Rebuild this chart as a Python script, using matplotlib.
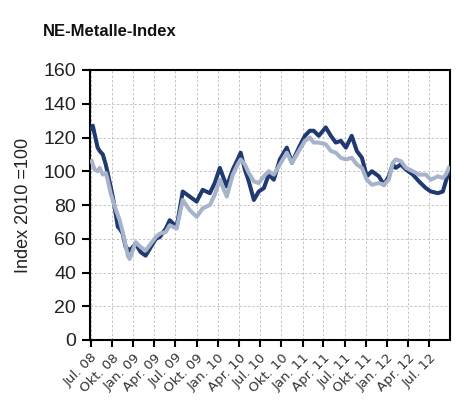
import matplotlib
matplotlib.use("Agg")
import matplotlib.pyplot as plt
import matplotlib.dates as mdates
import pandas as pd

dates = ["2008-07-05", "2008-07-10", "2008-07-18", "2008-07-31", "2008-08-09", "2008-08-22",
         "2008-09-04", "2008-09-12", "2008-09-25", "2008-10-04", "2008-10-13", "2008-10-26",
         "2008-11-03", "2008-11-16", "2008-11-29", "2008-12-08", "2008-12-16", "2008-12-29",
         "2009-01-11", "2009-02-02", "2009-02-23", "2009-03-17", "2009-04-08", "2009-04-25",
         "2009-05-21", "2009-06-07", "2009-07-07", "2009-08-02", "2009-09-01", "2009-10-01",
         "2009-10-27", "2009-11-27", "2009-12-18", "2010-01-09", "2010-02-08", "2010-03-06",
         "2010-03-27", "2010-04-09", "2010-04-27", "2010-05-14", "2010-06-05", "2010-06-26",
         "2010-07-18", "2010-08-08", "2010-08-30", "2010-09-25", "2010-10-25", "2010-11-16",
         "2010-12-16", "2011-01-11", "2011-02-01", "2011-02-18", "2011-03-12", "2011-04-11",
         "2011-05-03", "2011-05-24", "2011-06-15", "2011-07-07", "2011-08-01", "2011-08-23",
         "2011-09-14", "2011-10-05", "2011-10-27", "2011-11-26", "2011-12-18", "2012-01-08",
         "2012-01-25", "2012-02-07", "2012-02-29", "2012-03-22", "2012-04-21", "2012-05-17",
         "2012-06-16", "2012-07-07", "2012-08-07", "2012-08-28", "2012-09-10", "2012-09-23"]

dark_series = [125, 127, 122, 114, 112, 110,
               104, 99, 91, 85, 78, 67,
               66, 63, 55, 54, 53, 55,
               57, 52, 50, 55, 60, 61,
               66, 71, 67, 88, 85, 82,
               89, 87, 93, 102, 91, 101,
               107, 111, 101, 94, 83, 88,
               90, 98, 95, 107, 114, 105,
               114, 121, 124, 124, 121, 126,
               121, 117, 118, 114, 121, 112,
               108, 97, 100, 97, 92, 97,
               104, 102, 104, 101, 98, 94,
               90, 88, 87, 88, 94, 100]

light_series = [106, 104, 101, 100, 102, 98,
                99, 95, 87, 83, 79, 74,
                71, 64, 56, 50, 48, 53,
                58, 55, 53, 57, 61, 63,
                64, 68, 66, 83, 77, 73,
                78, 80, 86, 95, 85, 98,
                104, 107, 104, 99, 94, 93,
                97, 100, 98, 104, 111, 105,
                112, 118, 120, 117, 117, 116,
                112, 111, 108, 107, 108, 104,
                102, 95, 92, 93, 92, 95,
                105, 107, 106, 102, 100, 98,
                98, 95, 97, 96, 98, 102]

tick_dates = ["2008-07-01", "2008-10-01", "2009-01-01", "2009-04-01", "2009-07-01", "2009-10-01",
              "2010-01-01", "2010-04-01", "2010-07-01", "2010-10-01", "2011-01-01", "2011-04-01",
              "2011-07-01", "2011-10-01", "2012-01-01", "2012-04-01", "2012-07-01"]
tick_labels = ["Jul. 08", "Okt. 08", "Jan. 09", "Apr. 09", "Jul. 09", "Okt. 09",
               "Jan. 10", "Apr. 10", "Jul. 10", "Okt. 10", "Jan. 11", "Apr. 11",
               "Jul. 11", "Okt. 11", "Jan. 12", "Apr. 12", "Jul. 12"]
y_ticks = [0, 20, 40, 60, 80, 100, 120, 140, 160]

W, H = 457, 417
fig = plt.figure(figsize=(W / 100, H / 100), dpi=100)
ax = fig.add_axes([90 / W, 1 - 340 / H, 360 / W, 270 / H])

x = pd.to_datetime(dates)
ax.plot(x, dark_series, color="#1f3a70", lw=2.9, solid_joinstyle="round", zorder=3)
ax.plot(x, light_series, color="#a6b3ca", lw=2.9, solid_joinstyle="round", zorder=4)

ax.set_ylim(0, 160)
ax.set_yticks(y_ticks)
ax.set_yticklabels([str(v) for v in y_ticks], fontsize=14, family="Liberation Sans", color="#222222")
ax.set_xlim(pd.Timestamp("2008-06-28"), pd.Timestamp("2012-09-28"))
ax.set_xticks(pd.to_datetime(tick_dates))
ax.set_xticklabels(tick_labels, rotation=45, ha="right", rotation_mode="anchor",
                   fontsize=9.5, family="DejaVu Sans", color="#333333")

ax.grid(True, color="#c4c4c4", lw=0.7, ls=(0, (2.5, 2)))
ax.set_axisbelow(True)
for s in ax.spines.values():
    s.set_color("black")
    s.set_linewidth(1.5)
ax.tick_params(axis="y", length=6, width=1.5, pad=4, direction="out")
ax.tick_params(axis="x", length=5, width=1.5, pad=3, direction="out")

ax.set_ylabel("Index 2010 =100", fontsize=13, family="Liberation Sans", color="#222222", labelpad=8)

fig.text(43 / W, 1 - 31 / H, "NE-Metalle-Index", fontsize=12, fontweight="bold",
         family="Liberation Sans", va="center", ha="left", color="#111111")

fig.savefig("out.png", dpi=100)
